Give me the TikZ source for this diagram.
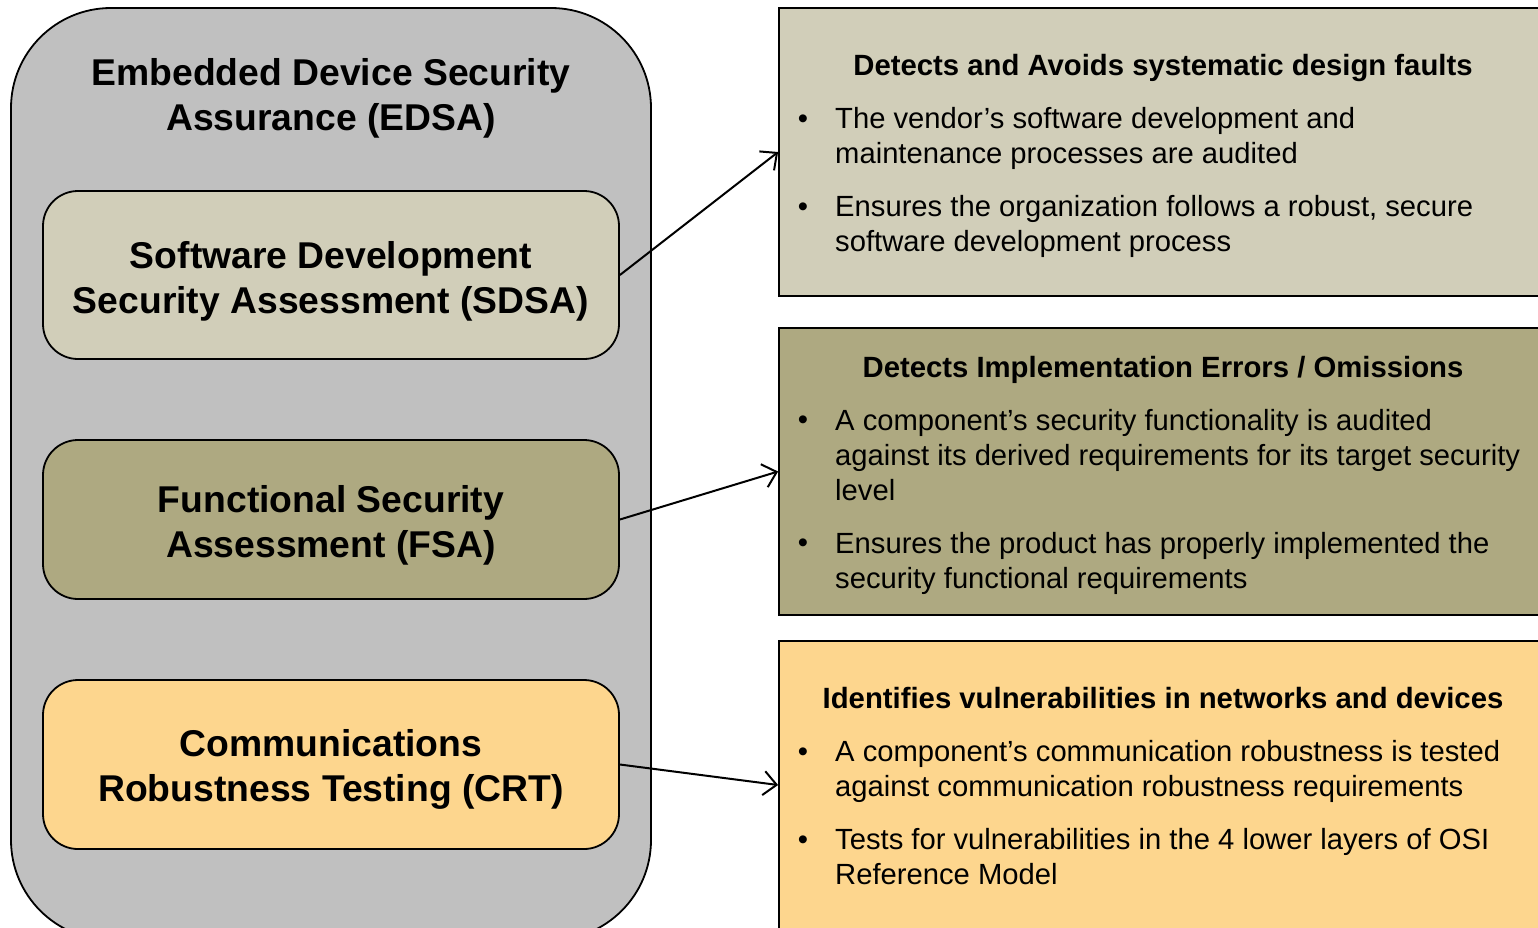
\documentclass[tikz,border=0pt]{standalone}
\usepackage{fontspec}
\setmainfont{Liberation Sans}
\usetikzlibrary{arrows.meta}
\definecolor{edsagray}{RGB}{192,192,192}
\definecolor{sdsacol}{RGB}{209,206,185}
\definecolor{fsacol}{RGB}{174,169,129}
\definecolor{crtcol}{RGB}{253,214,142}
\begin{document}
\begin{tikzpicture}[x=1pt,y=-1pt,
  box/.style={draw=black, line width=1.8pt},
  inbox/.style={box, rounded corners=35pt, minimum width=576pt, minimum height=168pt, inner sep=0pt},
  rbox/.style={box, minimum width=781pt, inner sep=0pt},
  bigtitle/.style={font=\fontsize{37.3}{45}\selectfont\bfseries, align=center, inner sep=0pt},
  head/.style={font=\fontsize{29.3}{35}\selectfont\bfseries, anchor=base, inner sep=0pt},
  bul/.style={font=\fontsize{29.2}{35}\selectfont, anchor=base west, align=left, inner sep=0pt},
  dot/.style={font=\fontsize{29.2}{35}\selectfont, anchor=base, inner sep=0pt},
  conn/.style={line width=2pt, -{Straight Barb[length=13pt,width=24pt,line width=2pt]}}
]
\useasboundingbox (0,0) rectangle (1538,927);
\clip (0,0) rectangle (1538,927);
% right boxes
\node[rbox, fill=sdsacol, minimum height=288pt] (rb1) at (1169.5,152) {};
\node[rbox, fill=fsacol, minimum height=287pt] (rb2) at (1169.5,471.5) {};
\node[rbox, fill=crtcol, minimum height=288pt] (rb3) at (1169.5,785) {};
% outer box
\draw[box, fill=edsagray, rounded corners=100pt] (11,8) rectangle (651,940);
\node[bigtitle] (edsa) at (331,98) {Embedded Device Security\\Assurance (EDSA)};
% inner boxes
\node[inbox, fill=sdsacol] (sdsa) at (331,275) {};
\node[inbox, fill=fsacol, minimum height=159pt] (fsa) at (331,519.5) {};
\node[inbox, fill=crtcol, minimum height=169pt] (crt) at (331,764.5) {};
\node[bigtitle] (sdsat) at (331,281) {Software Development\\Security Assessment (SDSA)};
\node[bigtitle] (fsat) at (331,525) {Functional Security\\Assessment (FSA)};
\node[bigtitle] (crtt) at (331,769.5) {Communications\\Robustness Testing (CRT)};
% connectors
\draw[conn] (sdsa.east) -- (rb1.west);
\draw[conn] (fsa.east) -- (rb2.west);
\draw[conn] (crt.east) -- (rb3.west);
% box 1 text
\node[head] (h1) at (1163,75) {Detects and Avoids systematic design faults};
\node[dot] (d11) at (803,128) {•};
\node[bul] (b11) at (835,163) {The vendor’s software development and\\maintenance processes are audited};
\node[dot] (d12) at (803,216) {•};
\node[bul] (b12) at (835,251) {Ensures the organization follows a robust, secure\\software development process};
% box 2 text
\node[head] (h2) at (1163,377) {Detects Implementation Errors / Omissions};
\node[dot] (d21) at (803,429) {•};
\node[bul] (b21) at (835,500) {A component’s security functionality is audited\\against its derived requirements for its target security\\level};
\node[dot] (d22) at (803,552) {•};
\node[bul] (b22) at (835,588) {Ensures the product has properly implemented the\\security functional requirements};
% box 3 text
\node[head] (h3) at (1163,708) {Identifies vulnerabilities in networks and devices};
\node[dot] (d31) at (803,761) {•};
\node[bul] (b31) at (835,796) {A component’s communication robustness is tested\\against communication robustness requirements};
\node[dot] (d32) at (803,849) {•};
\node[bul] (b32) at (835,884) {Tests for vulnerabilities in the 4 lower layers of OSI\\Reference Model};
\end{tikzpicture}
\end{document}
